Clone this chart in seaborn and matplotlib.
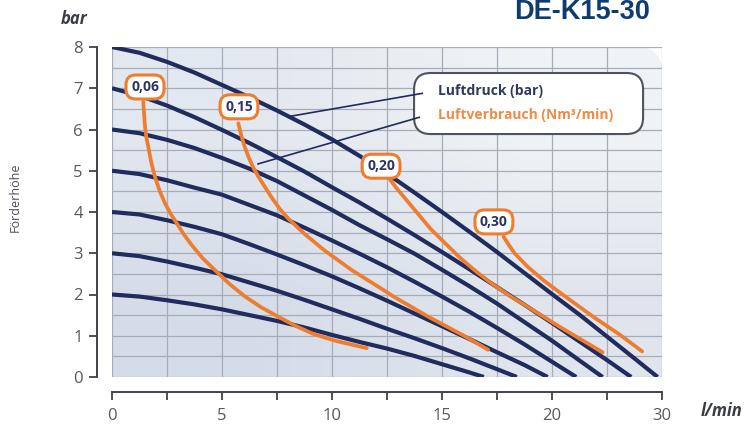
import numpy as np
import pandas as pd
import matplotlib
matplotlib.use("Agg")
import matplotlib.pyplot as plt
from matplotlib.patches import Polygon, FancyBboxPatch
from matplotlib.ticker import MultipleLocator, FixedLocator, FixedFormatter
import seaborn as sns

# Luftdruck-Kennlinien: Förderstrom (l/min) -> Förderhöhe (bar)
druck_labels = ["2", "3", "4", "5", "6", "7", "8"]
druck_x = [
    [0, 1.25, 2.5, 3.75, 5, 6.25, 7.5, 8.75, 10, 11.25, 12.5, 13.75, 15, 16.25, 16.9],
    [0, 1.25, 2.5, 3.75, 5, 6.25, 7.5, 8.75, 10, 11.25, 12.5, 13.75, 15, 16.25, 17.5, 18.4],
    [0, 1.25, 2.5, 3.75, 5, 6.25, 7.5, 8.75, 10, 11.25, 12.5, 13.75, 15, 16.25, 17.5, 18.75, 19.8],
    [0, 1.25, 2.5, 3.75, 5, 6.25, 7.5, 8.75, 10, 11.25, 12.5, 13.75, 15, 16.25, 17.5, 18.75, 20, 21.1],
    [0, 1.25, 2.5, 3.75, 5, 6.25, 7.5, 8.75, 10, 11.25, 12.5, 13.75, 15, 16.25, 17.5, 18.75, 20, 21.25,
     22.3],
    [0, 1.25, 2.5, 3.75, 5, 6.25, 7.5, 8.75, 10, 11.25, 12.5, 13.75, 15, 16.25, 17.5, 18.75, 20, 21.25,
     22.5, 23.6],
    [0, 1.25, 2.5, 3.75, 5, 6.25, 7.5, 8.75, 10, 11.25, 12.5, 13.75, 15, 16.25, 17.5, 18.75, 20, 21.25,
     22.5, 23.75, 24.8],
]
druck_y = [
    [2.0, 1.95, 1.86, 1.76, 1.64, 1.50, 1.36, 1.20, 1.02, 0.85, 0.69, 0.51, 0.31, 0.11, 0.0],
    [3.0, 2.93, 2.80, 2.65, 2.49, 2.29, 2.09, 1.87, 1.64, 1.41, 1.17, 0.94, 0.70, 0.45, 0.19, 0.0],
    [4.0, 3.94, 3.80, 3.64, 3.46, 3.22, 2.97, 2.71, 2.44, 2.15, 1.85, 1.54, 1.23, 0.92, 0.60, 0.29, 0.0],
    [5.0, 4.92, 4.77, 4.59, 4.42, 4.17, 3.92, 3.62, 3.31, 2.99, 2.66, 2.31, 1.95, 1.58, 1.19, 0.79, 0.37,
     0.0],
    [6.0, 5.91, 5.75, 5.55, 5.31, 5.05, 4.75, 4.40, 4.05, 3.68, 3.34, 2.99, 2.60, 2.20, 1.78, 1.33, 0.88,
     0.40, 0.0],
    [7.0, 6.82, 6.58, 6.30, 5.99, 5.67, 5.33, 4.98, 4.60, 4.23, 3.84, 3.44, 3.03, 2.61, 2.18, 1.75, 1.31,
     0.86, 0.41, 0.0],
    [8.0, 7.86, 7.64, 7.38, 7.08, 6.78, 6.46, 6.12, 5.76, 5.36, 4.93, 4.47, 4.00, 3.52, 3.03, 2.52, 2.01,
     1.51, 0.98, 0.45, 0.0],
]

# Luftverbrauch-Kurven (Nm³/min)
verbrauch_labels = ["0,06", "0,15", "0,20", "0,30"]
verbrauch_x = [
    [1.42, 1.5, 1.56, 1.65, 1.78, 1.95, 2.16, 2.41, 2.66, 2.94, 3.26, 3.62, 4.12, 4.68, 5.33, 6.05,
     6.78, 7.56, 8.3, 9.08, 9.7, 10.29, 11.58],
    [5.74, 5.89, 6.02, 6.20, 6.42, 6.65, 7.26, 7.62, 8.01, 8.77, 9.68, 10.9, 12.1, 12.86, 14.45, 16.0,
     17.1],
    [12.55, 12.9, 13.4, 14.5, 15.8, 16.5, 17.3, 18.1, 18.9, 20.4, 22.3],
    [17.8, 18.05, 18.3, 18.9, 19.6, 20.4, 21.9, 23.1, 24.1],
]
verbrauch_y = [
    [6.67, 6.07, 5.82, 5.58, 5.21, 4.86, 4.52, 4.21, 3.96, 3.73, 3.46, 3.20, 2.88, 2.59, 2.26, 1.95,
     1.69, 1.46, 1.25, 1.06, 0.95, 0.86, 0.70],
    [6.15, 5.83, 5.60, 5.34, 5.08, 4.86, 4.35, 4.08, 3.84, 3.46, 3.06, 2.59, 2.19, 1.93, 1.44, 1.00,
     0.66],
    [4.85, 4.6, 4.28, 3.58, 2.9, 2.58, 2.25, 1.96, 1.7, 1.2, 0.6],
    [3.4, 3.19, 3.0, 2.67, 2.35, 2.03, 1.45, 1.02, 0.62],
]
# Positionen der Kurvenbeschriftungen (Mitte der Kästchen)
label_x = [1.5, 5.77, 12.23, 17.36]
label_y = [7.03, 6.55, 5.11, 3.76]

x_ticks = [0, 5, 10, 15, 20, 25]
x_tick_labels = ["0", "5", "10", "15", "20", "30"]
y_ticks = [0, 1, 2, 3, 4, 5, 6, 7, 8]

NAVY = "#202b5e"
ORANGE = "#ee7d30"
AXIS = "#3d424d"
GREY_TXT = "#555a60"

sns.set_theme(style="ticks")
plt.rcParams["font.family"] = ["Open Sans", "DejaVu Sans"]

fig = plt.figure(figsize=(7.5, 4.28), dpi=100)
ax = fig.add_axes([112 / 750, 51 / 428, 550 / 750, 330 / 428])
ax.set_xlim(0, 25)
ax.set_ylim(0, 8)
ax.patch.set_visible(False)

# Hintergrund mit abgerundeter Ecke oben rechts
rx, ry = 22 / 550, 22 / 330
t = np.linspace(0, np.pi / 2, 20)
corner = np.column_stack([1 - rx + rx * np.cos(t), 1 - ry + ry * np.sin(t)])
verts = np.vstack([[[0, 0], [1, 0]], corner, [[0, 1]]])
bg = Polygon(verts, closed=True, transform=ax.transAxes, fc="none", ec="none")
ax.add_patch(bg)
grad = np.array([[[0.835, 0.865, 0.912], [0.88, 0.9, 0.93]],
                 [[0.89, 0.91, 0.938], [0.94, 0.952, 0.965]]])
im = ax.imshow(grad, extent=(0, 25, 0, 8), origin="lower", aspect="auto",
               interpolation="bilinear", zorder=0.1)
im.set_clip_path(bg)

# Gitter
ax.set_axisbelow(True)
ax.xaxis.set_major_locator(FixedLocator(x_ticks))
ax.xaxis.set_major_formatter(FixedFormatter(x_tick_labels))
ax.xaxis.set_minor_locator(MultipleLocator(2.5))
ax.yaxis.set_major_locator(FixedLocator(y_ticks))
ax.yaxis.set_minor_locator(MultipleLocator(0.5))
ax.grid(True, which="both", color="#a6adb8", lw=0.9)
for tk in (ax.xaxis.get_major_ticks() + ax.xaxis.get_minor_ticks()
           + ax.yaxis.get_major_ticks() + ax.yaxis.get_minor_ticks()):
    tk.gridline.set_clip_path(bg)

# Kurven
blue_df = pd.concat([pd.DataFrame({"q": x, "h": y, "bar": lab})
                     for lab, x, y in zip(druck_labels, druck_x, druck_y)])
orange_df = pd.concat([pd.DataFrame({"q": x, "h": y, "nm3": lab})
                       for lab, x, y in zip(verbrauch_labels, verbrauch_x, verbrauch_y)])

sns.lineplot(data=blue_df, x="q", y="h", hue="bar", palette=[NAVY] * len(druck_labels),
             lw=3.0, legend=False, sort=False, estimator=None, ax=ax, zorder=3,
             solid_capstyle="butt", solid_joinstyle="round")
sns.lineplot(data=orange_df, x="q", y="h", hue="nm3", palette=[ORANGE] * len(verbrauch_labels),
             lw=2.7, legend=False, sort=False, estimator=None, ax=ax, zorder=4,
             solid_capstyle="round", solid_joinstyle="round")

for lab, lx, ly in zip(verbrauch_labels, label_x, label_y):
    ax.text(lx, ly, lab, ha="center", va="center", fontsize=10, fontweight="bold",
            color="#2b3566", zorder=6,
            bbox=dict(boxstyle="round,pad=0.36,rounding_size=0.7", fc="white",
                      ec=ORANGE, lw=2.2))

# Legendenkasten
box = FancyBboxPatch((13.73, 5.89), 24.14 - 13.73, 7.37 - 5.89,
                     boxstyle="round,pad=0,rounding_size=0.75", mutation_aspect=22 / 41.25,
                     fc="white", ec="#4e5360", lw=1.5, zorder=5)
ax.add_patch(box)
ax.plot([8.1, 14.14], [6.32, 6.88], color=NAVY, lw=1.2, zorder=6, solid_capstyle="butt")
ax.plot([6.6, 14.0], [5.16, 6.30], color=NAVY, lw=1.2, zorder=6, solid_capstyle="butt")
ax.text(14.82, 6.93, "Luftdruck (bar)", ha="left", va="center", fontsize=10,
        fontweight="bold", color="#2d3a5e", zorder=7)
ax.text(14.82, 6.35, "Luftverbrauch (Nm³/min)", ha="left", va="center", fontsize=10,
        fontweight="bold", color="#f08a45", zorder=7)

# Achsen
sns.despine(ax=ax, offset=11)
ax.spines["left"].set_bounds(0, 8)
ax.spines["bottom"].set_bounds(0, 25)
for s in ("left", "bottom"):
    ax.spines[s].set_color(AXIS)
    ax.spines[s].set_linewidth(1.4)
ax.tick_params(axis="both", which="both", direction="out", length=6, width=1.3,
               color=AXIS, labelsize=12, labelcolor=GREY_TXT)
ax.tick_params(axis="y", which="minor", length=0)
ax.tick_params(axis="x", pad=5)
ax.tick_params(axis="y", pad=4)
ax.set_xlabel("")
ax.set_ylabel("")

fig.text(74 / 750, 1 - 19 / 428, "bar", ha="center", va="center", fontsize=12,
         fontweight="bold", fontstyle="italic", color="#3a3d44")
fig.text(722 / 750, 1 - 411 / 428, "l/min", ha="center", va="center", fontsize=12,
         fontweight="bold", fontstyle="italic", color="#3a3d44")
fig.text(15 / 750, 1 - 197 / 428, "Förderhöhe", ha="center", va="center", fontsize=9,
         rotation=90, color="#4a5058")
fig.text(582 / 750, 1 - 19 / 428, "DE-K15-30", ha="center", va="baseline",
         fontsize=19.5, fontweight="bold", color="#0e3c6e",
         family=["Liberation Sans", "DejaVu Sans"])

fig.savefig("out.png", dpi=100)
